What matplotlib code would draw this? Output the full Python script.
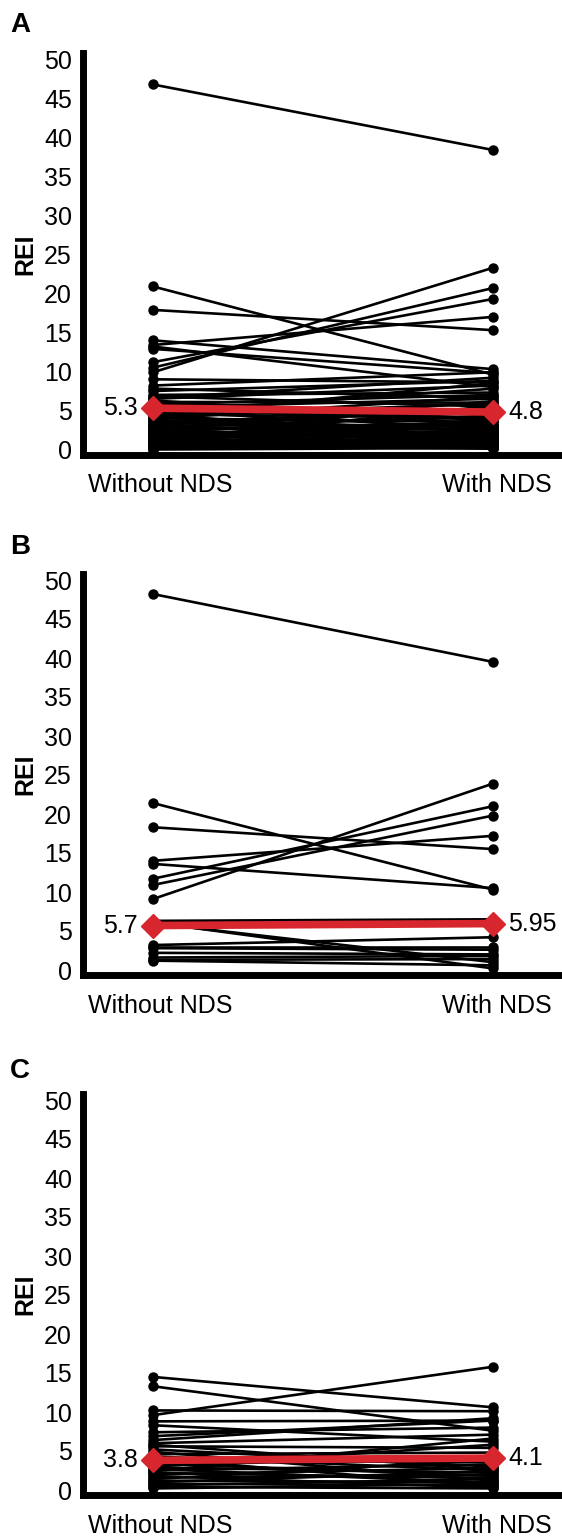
import matplotlib
matplotlib.use('Agg')
import matplotlib.pyplot as plt

plt.rcParams['font.family'] = ['Liberation Sans', 'DejaVu Sans']

# REI per patient: without NDS / with NDS
a_without = [46.8, 20.9, 17.9, 14.0, 13.4, 12.9, 11.2, 10.5, 9.9, 9.0, 8.2, 13.2, 7.0,
             6.8, 6.5, 6.3, 6.1, 6.0, 5.8, 5.6, 5.5, 5.4, 5.2, 5.0, 4.9, 4.8, 4.6, 4.5,
             4.3, 4.2, 4.0, 3.9, 3.8, 3.6, 3.5, 3.3, 3.2, 3.1, 3.0, 2.9, 2.8, 2.6, 2.5,
             2.4, 2.3, 2.2, 2.1, 2.0, 1.9, 1.8, 1.7, 1.6, 1.5, 1.4, 1.3, 1.2, 1.1, 1.0,
             0.9, 0.8, 0.7, 0.6, 0.5, 0.4, 0.3, 0.2, 0.1, 0.0, 7.5, 7.8, 6.6, 5.9, 4.4]
a_with = [38.4, 9.6, 15.3, 10.3, 17.0, 9.8, 19.3, 20.7, 23.3, 8.6, 9.9, 8.0, 7.3,
          5.5, 8.2, 3.2, 6.0, 2.1, 7.0, 4.4, 1.2, 6.5, 3.8, 5.0, 2.7, 7.8, 0.8, 4.1,
          5.9, 2.3, 3.5, 6.8, 1.6, 4.7, 2.9, 0.5, 5.3, 3.0, 1.9, 4.2, 2.5, 6.2, 1.1,
          3.3, 0.3, 2.0, 4.9, 1.4, 2.8, 0.7, 3.6, 1.8, 0.2, 2.4, 1.0, 5.6, 0.6, 1.5,
          3.9, 0.4, 2.2, 1.3, 0.1, 0.9, 2.6, 0.5, 1.7, 0.2, 8.8, 6.6, 9.2, 4.6, 8.5]

b_without = [48.2, 21.4, 18.3, 14.0, 13.6, 11.7, 10.9, 9.1,
             6.3, 6.2, 6.0, 6.1, 6.0, 5.8, 3.2, 3.0, 2.8, 2.2, 1.6, 1.3, 1.2]
b_with = [39.5, 10.3, 15.5, 17.2, 10.5, 21.0, 19.8, 23.9,
          6.5, 6.3, 6.2, 0.2, 1.0, 6.0, 4.2, 3.0, 2.6, 2.0, 1.8, 1.4, 0.6]

c_without = [14.5, 13.3, 9.6, 10.2, 8.8, 8.3, 6.9, 6.4, 5.6,
             5.2, 4.9, 4.6, 4.3, 4.0, 3.7, 3.4, 3.2, 2.9, 2.7, 2.5, 2.2, 2.0,
             1.8, 1.6, 1.4, 1.2, 1.0, 0.8, 0.6, 0.4, 0.2, 7.4, 6.0, 5.8, 3.0, 2.4]
c_with = [10.6, 7.6, 15.8, 10.1, 8.9, 6.2, 8.9, 9.2, 5.4,
          3.0, 1.2, 4.8, 2.5, 0.5, 3.6, 1.8, 4.2, 2.2, 0.9, 3.3, 1.5, 2.8,
          0.3, 1.9, 3.9, 1.0, 2.4, 0.6, 1.4, 0.2, 0.8, 8.0, 7.1, 2.6, 5.8, 6.6]

medians = {'A': (5.3, 4.8), 'B': (5.7, 5.95), 'C': (3.8, 4.1)}
median_labels = {'A': ('5.3', '4.8'), 'B': ('5.7', '5.95'), 'C': ('3.8', '4.1')}
groups = ['Without NDS', 'With NDS']
yticks = list(range(0, 55, 5))

W, H = 562, 1537
fig = plt.figure(figsize=(W / 100, H / 100), dpi=100)

red = '#d7262e'
panels = [('A', a_without, a_with, 449.5, 25),
          ('B', b_without, b_with, 970.0, 547),
          ('C', c_without, c_with, 1490.0, 1071)]

ppu = 7.8            # pixels per REI unit
ylo, yhi = -0.7, 50.8
x_left_px, x0_px, x1_px = 83, 153, 493
ppx = x1_px - x0_px
fs = 18

for letter, wo, wi, y0px, letter_y in panels:
    top = y0px - yhi * ppu
    bottom = y0px - ylo * ppu
    ax = fig.add_axes([x_left_px / W, 1 - bottom / H, (W - x_left_px) / W, (bottom - top) / H])
    ax.set_xlim(-(x0_px - x_left_px) / ppx, 1 + (W - x1_px) / ppx)
    ax.set_ylim(ylo, yhi)

    for a, b in zip(wo, wi):
        ax.plot([0, 1], [a, b], color='black', lw=1.9, marker='o', ms=6.5,
                solid_capstyle='round', clip_on=False, zorder=2)

    m0, m1 = medians[letter]
    ax.plot([0, 1], [m0, m1], color=red, lw=5.5, marker='D', ms=12.5,
            clip_on=False, zorder=3)
    l0, l1 = median_labels[letter]
    ax.text(-0.045, m0, l0, ha='right', va='center', fontsize=fs)
    ax.text(1.045, m1, l1, ha='left', va='center', fontsize=fs)

    for s in ['top', 'right']:
        ax.spines[s].set_visible(False)
    for s in ['left', 'bottom']:
        ax.spines[s].set_linewidth(5)
        ax.spines[s].set_zorder(1)
    ax.set_yticks(yticks)
    ax.set_yticklabels([str(t) for t in yticks], fontsize=fs)
    ax.set_xticks([0.02, 1.01])
    ax.set_xticklabels(groups, fontsize=fs)
    ax.tick_params(axis='y', length=0, pad=8)
    ax.tick_params(axis='x', length=0, pad=13)
    ax.set_ylabel('REI', fontsize=fs, fontweight='bold')
    ax.yaxis.set_label_coords(-(83 - 37) / (W - x_left_px), 0.5)

    fig.text(10 / W, 1 - letter_y / H, letter, fontsize=20, fontweight='bold',
             ha='left', va='center')

fig.savefig('out.png', dpi=100)
